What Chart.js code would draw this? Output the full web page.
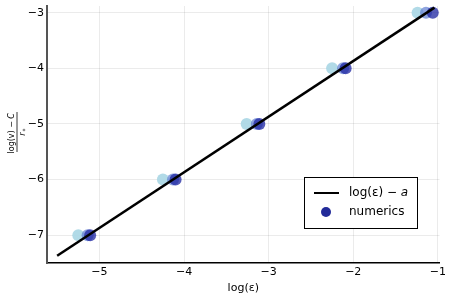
<!DOCTYPE html>
<html>
<head>
<meta charset="utf-8">
<script src="https://cdn.jsdelivr.net/npm/chart.js@4.4.0/dist/chart.umd.min.js"></script>
<style>
  html, body { margin: 0; padding: 0; background: #fff; }
  #wrap { width: 449px; height: 299px; }
</style>
</head>
<body>
<div id="wrap"><canvas id="fit_chart"></canvas></div>
<script>
// fitted line log(eps) - a
const lineX = [-5.5, -1.04]
const lineY = [-7.37, -2.91]

// numerics, one x per level and shade
const levels = [-7, -6, -5, -4, -3]
const xLight = [-5.25, -4.25, -3.26, -2.25, -1.24]
const xMid = [-5.14, -4.13, -3.14, -2.12, -1.14]
const xDark = [-5.11, -4.10, -3.11, -2.09, -1.06]

const xTicks = [-5, -4, -3, -2, -1]
const yTicks = [-7, -6, -5, -4, -3]

const shades = ['rgba(173, 216, 230, 0.95)', 'rgba(95, 125, 210, 0.7)', 'rgba(28, 36, 160, 0.75)']

const points = []
const colors = []
;[xLight, xMid, xDark].forEach((xs, k) => {
    xs.forEach((x, i) => {
        points.push({ x: x, y: levels[i] })
        colors.push(shades[k])
    })
})

const font = "'DejaVu Sans', sans-serif"

const ylabel_plugin = {
    id: 'ylabel',
    afterDraw(chart) {
        const c = chart.ctx
        c.save()
        c.translate(17, 133)
        c.rotate(-Math.PI / 2)
        c.fillStyle = '#000'
        c.textAlign = 'center'
        c.font = "8px " + font
        c.textBaseline = 'alphabetic'
        c.fillText('log(v) \u2212 ', -3, -3)
        c.font = "italic 8px " + font
        c.fillText('C', 17, -3)
        c.fillText('r', -1, 8)
        c.font = "italic 6px " + font
        c.fillText('*', 3, 10)
        c.strokeStyle = '#000'
        c.lineWidth = 0.8
        c.beginPath()
        c.moveTo(-19, 0)
        c.lineTo(21, 0)
        c.stroke()
        c.restore()
    }
}

const legend_plugin = {
    id: 'boxlegend',
    afterDraw(chart) {
        const c = chart.ctx
        c.save()
        c.fillStyle = '#fff'
        c.fillRect(304, 177, 113, 51)
        c.strokeStyle = '#000'
        c.lineWidth = 1
        c.strokeRect(304.5, 177.5, 113, 51)
        c.beginPath()
        c.lineWidth = 2
        c.moveTo(314, 193)
        c.lineTo(339, 193)
        c.stroke()
        c.fillStyle = '#222a99'
        c.beginPath()
        c.arc(326, 212, 5, 0, Math.PI * 2)
        c.fill()
        c.fillStyle = '#000'
        c.textBaseline = 'middle'
        c.textAlign = 'left'
        c.font = "12px " + font
        c.fillText('log(\u03b5) \u2212 ', 349, 193)
        const w = c.measureText('log(\u03b5) \u2212 ').width
        c.font = "italic 12px " + font
        c.fillText('a', 349 + w, 193)
        c.font = "12px " + font
        c.fillText('numerics', 349, 212)
        c.restore()
    }
}

const fit_config = {
    type: 'scatter',
    data: {
        datasets: [{
            type: 'line',
            label: 'log(\u03b5) \u2212 a',
            data: lineX.map((x, i) => ({ x: x, y: lineY[i] })),
            borderColor: '#000',
            borderWidth: 2.5,
            pointRadius: 0,
            fill: false
        }, {
            type: 'scatter',
            label: 'numerics',
            data: points,
            backgroundColor: colors,
            borderWidth: 0,
            pointRadius: 6,
            pointHoverRadius: 6
        }]
    },
    options: {
        responsive: false,
        animation: false,
        layout: { padding: { left: 0, right: 9, top: 1, bottom: 4 } },
        plugins: { legend: { display: false }, tooltip: { enabled: false } },
        scales: {
            x: {
                type: 'linear',
                min: -5.62,
                max: -0.98,
                afterBuildTicks: (scale) => { scale.ticks = xTicks.map((v) => ({ value: v })) },
                afterFit: (scale) => { scale.height = 32 },
                ticks: {
                    color: '#000',
                    font: { family: font, size: 11 },
                    padding: 3,
                    callback: (v) => String(v).replace('-', '\u2212')
                },
                grid: { color: 'rgba(0,0,0,0.08)', drawTicks: false },
                border: { color: '#000', width: 1.5 },
                title: {
                    display: true,
                    text: 'log(\u03b5)',
                    color: '#000',
                    font: { family: font, size: 11 },
                    padding: { top: 0, bottom: 0 }
                }
            },
            y: {
                type: 'linear',
                min: -7.5,
                max: -2.88,
                afterBuildTicks: (scale) => { scale.ticks = yTicks.map((v) => ({ value: v })) },
                afterFit: (scale) => {
                    scale.width = 47
                    scale.paddingTop = 0
                    scale.paddingBottom = 0
                },
                ticks: {
                    color: '#000',
                    font: { family: font, size: 11 },
                    padding: 3,
                    callback: (v) => String(v).replace('-', '\u2212')
                },
                grid: { color: 'rgba(0,0,0,0.08)', drawTicks: false },
                border: { color: '#555', width: 2 }
            }
        }
    },
    plugins: [ylabel_plugin, legend_plugin]
}

const ctx_fit = document.getElementById('fit_chart')
ctx_fit.width = 449
ctx_fit.height = 299
const fit_chart = new Chart(ctx_fit, fit_config)
</script>
</body>
</html>
